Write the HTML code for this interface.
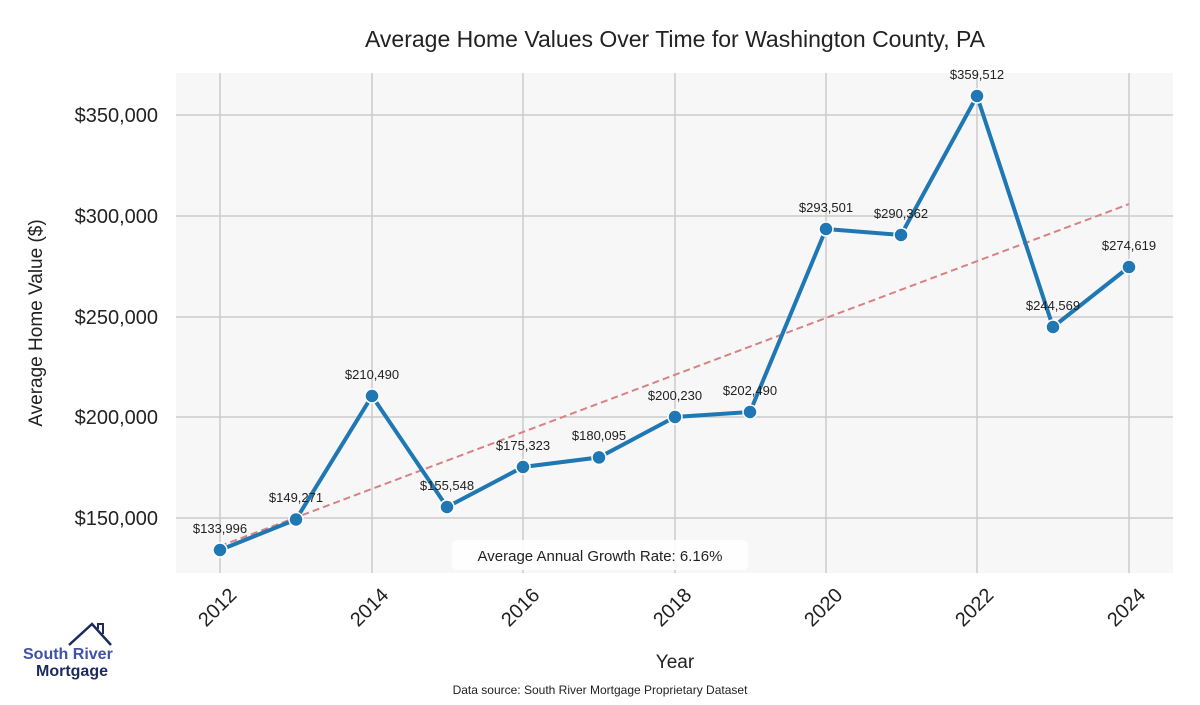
<!DOCTYPE html>
<html><head><style>
body{margin:0;background:#fff;width:1200px;height:700px;overflow:hidden;font-family:"Liberation Sans",sans-serif}
</style></head><body>
<svg width="1200" height="700" xmlns="http://www.w3.org/2000/svg" font-family="Liberation Sans, sans-serif">
<rect x="176" y="73" width="997" height="500" fill="#f7f7f7"/>
<g stroke="#cccccc" stroke-width="1.5">
<line x1="220" y1="73" x2="220" y2="573"/><line x1="372" y1="73" x2="372" y2="573"/>
<line x1="523" y1="73" x2="523" y2="573"/><line x1="675" y1="73" x2="675" y2="573"/>
<line x1="826" y1="73" x2="826" y2="573"/><line x1="977" y1="73" x2="977" y2="573"/>
<line x1="1129" y1="73" x2="1129" y2="573"/>
<line x1="176" y1="115" x2="1173" y2="115"/><line x1="176" y1="216" x2="1173" y2="216"/>
<line x1="176" y1="317" x2="1173" y2="317"/><line x1="176" y1="417" x2="1173" y2="417"/>
<line x1="176" y1="518" x2="1173" y2="518"/>
</g>
<text x="675" y="47" text-anchor="middle" font-size="23" fill="#222">Average Home Values Over Time for Washington County, PA</text>
<g font-size="20" fill="#222" text-anchor="end">
<text x="158" y="122">$350,000</text><text x="158" y="223">$300,000</text>
<text x="158" y="324">$250,000</text><text x="158" y="424">$200,000</text>
<text x="158" y="525">$150,000</text>
</g>
<g font-size="20" fill="#222" text-anchor="middle">
<text transform="translate(222,612) rotate(-45)">2012</text>
<text transform="translate(374,612) rotate(-45)">2014</text>
<text transform="translate(525,612) rotate(-45)">2016</text>
<text transform="translate(677,612) rotate(-45)">2018</text>
<text transform="translate(828,612) rotate(-45)">2020</text>
<text transform="translate(979,612) rotate(-45)">2022</text>
<text transform="translate(1131,612) rotate(-45)">2024</text>
</g>
<text x="675" y="668" text-anchor="middle" font-size="19" fill="#222">Year</text>
<text transform="translate(42,323) rotate(-90)" text-anchor="middle" font-size="19" fill="#222">Average Home Value ($)</text>
<line x1="220" y1="546" x2="1129" y2="204" stroke="#d98282" stroke-width="2" stroke-dasharray="7,4"/>
<polyline fill="none" stroke="#1f77b4" stroke-width="4" points="220,550 296,519.5 372,396 447,507 523,467 599,457.4 675,417 750,412 826,229 901,235 977,96 1053,327 1129,267"/>
<g fill="#1f77b4" stroke="#fff" stroke-width="1.5">
<circle cx="220" cy="550" r="7"/><circle cx="296" cy="519.5" r="7"/><circle cx="372" cy="396" r="7"/>
<circle cx="447" cy="507" r="7"/><circle cx="523" cy="467" r="7"/><circle cx="599" cy="457.4" r="7"/>
<circle cx="675" cy="417" r="7"/><circle cx="750" cy="412" r="7"/><circle cx="826" cy="229" r="7"/>
<circle cx="901" cy="235" r="7"/><circle cx="977" cy="96" r="7"/><circle cx="1053" cy="327" r="7"/>
<circle cx="1129" cy="267" r="7"/>
</g>
<g font-size="13" fill="#222" text-anchor="middle">
<text x="220" y="533">$133,996</text><text x="296" y="502">$149,271</text><text x="372" y="379">$210,490</text>
<text x="447" y="490">$155,548</text><text x="523" y="450">$175,323</text><text x="599" y="440">$180,095</text>
<text x="675" y="400">$200,230</text><text x="750" y="395">$202,490</text><text x="826" y="212">$293,501</text>
<text x="901" y="218">$290,362</text><text x="977" y="79">$359,512</text><text x="1053" y="310">$244,569</text>
<text x="1129" y="250">$274,619</text>
</g>
<rect x="452" y="540" width="296" height="30" rx="5" fill="#fff" opacity="0.85"/>
<text x="600" y="561" text-anchor="middle" font-size="15" fill="#222">Average Annual Growth Rate: 6.16%</text>
<text x="600" y="694" text-anchor="middle" font-size="12" fill="#222">Data source: South River Mortgage Proprietary Dataset</text>
<polyline points="69,645 92,624 111,645" fill="none" stroke="#1e2a5e" stroke-width="2.5"/>
<polyline points="98,629 98,624 103,624 103,634" fill="none" stroke="#1e2a5e" stroke-width="2"/>
<text x="23" y="659" font-size="16" font-weight="bold" fill="#3f51a8">South River</text>
<text x="36" y="676" font-size="16" font-weight="bold" fill="#1e2a5e">Mortgage</text>
</svg>
</body></html>
